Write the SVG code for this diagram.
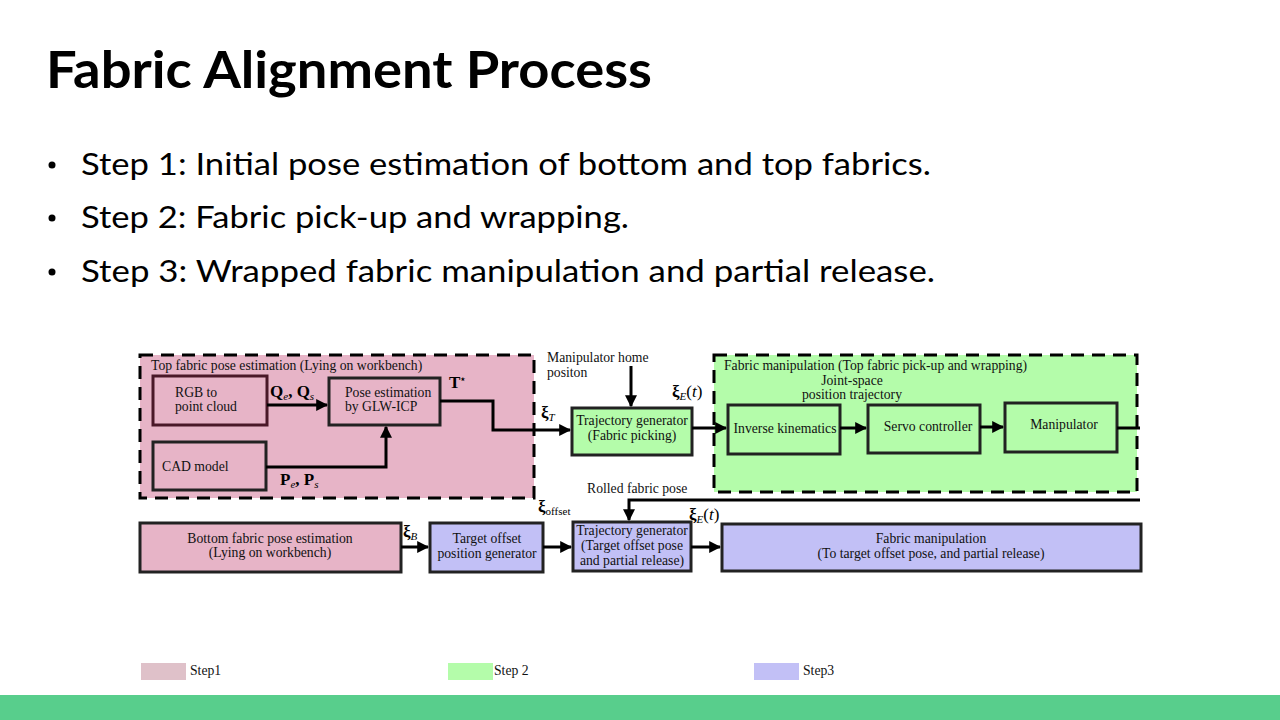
<svg xmlns="http://www.w3.org/2000/svg" width="1280" height="720" viewBox="0 0 1280 720">
<defs>
<marker id="ah" viewBox="0 0 10 10" refX="9" refY="5" markerWidth="4" markerHeight="4" orient="auto" markerUnits="strokeWidth">
<path d="M0,0 L10,5 L0,10 z" fill="#000"/>
</marker>
<style>
.title{font-family:Lato,"Open Sans",sans-serif;font-weight:bold;font-size:52px;fill:#000}
.bul{font-family:Lato,"Open Sans",sans-serif;font-size:31px;fill:#000}
.t{font-family:"Liberation Serif",serif;font-size:13.7px;fill:#111}
.tc{font-family:"Liberation Serif",serif;font-size:13.7px;fill:#111;text-anchor:middle}
.m{font-family:"Liberation Serif",serif;font-size:17px;font-weight:bold;fill:#000}
.sub{font-family:"Liberation Serif",serif;font-size:11px;font-style:italic;font-weight:normal}
.box{stroke:#222;stroke-width:3}
.pink{fill:#e7b4c7}
.green{fill:#b4fcaa}
.lav{fill:#c2c0f6}
.region{stroke:#000;stroke-width:3;stroke-dasharray:13 8}
.c{fill:none;stroke:#000;stroke-width:3}
.ca{fill:none;stroke:#000;stroke-width:3;marker-end:url(#ah)}
</style>
</defs>
<rect width="1280" height="720" fill="#fff"/>
<text class="title" x="46" y="88" textLength="606" lengthAdjust="spacingAndGlyphs">Fabric Alignment Process</text>
<g id="bullets">
<circle cx="52" cy="165" r="3.5" fill="#000"/>
<circle cx="52" cy="218" r="3.5" fill="#000"/>
<circle cx="52" cy="272" r="3.5" fill="#000"/>
<text class="bul" x="81" y="175" textLength="850" lengthAdjust="spacingAndGlyphs">Step 1: Initial pose estimation of bottom and top fabrics.</text>
<text class="bul" x="81" y="228" textLength="548" lengthAdjust="spacingAndGlyphs">Step 2: Fabric pick-up and wrapping.</text>
<text class="bul" x="81" y="282" textLength="854" lengthAdjust="spacingAndGlyphs">Step 3: Wrapped fabric manipulation and partial release.</text>
</g>

<g id="region-step1">
<rect class="pink region" x="140" y="355" width="394" height="143"/>
<text class="t" x="151" y="370">Top fabric pose estimation (Lying on workbench)</text>
</g>
<g id="region-step2">
<rect class="green region" x="714" y="355" width="423" height="137"/>
<text class="t" x="724" y="370">Fabric manipulation (Top fabric pick-up and wrapping)</text>
<text class="tc" x="852" y="385">Joint-space</text>
<text class="tc" x="852" y="399">position trajectory</text>
</g>

<g id="rgb">
<rect class="pink" x="153" y="376" width="114" height="49" stroke="#4a1828" stroke-width="3"/>
<text class="t" x="175" y="397">RGB to</text>
<text class="t" x="175" y="411">point cloud</text>
</g>
<g id="pose">
<rect class="pink box" x="329" y="378" width="111" height="47"/>
<text class="t" x="345" y="397">Pose estimation</text>
<text class="t" x="345" y="411">by GLW-ICP</text>
</g>
<g id="cad">
<rect class="pink box" x="153" y="442" width="113" height="48"/>
<text class="t" x="162" y="471">CAD model</text>
</g>
<g id="traj1">
<rect class="green box" x="572" y="408" width="120" height="47"/>
<text class="tc" x="632" y="425">Trajectory generator</text>
<text class="tc" x="632" y="440">(Fabric picking)</text>
</g>
<g id="ik">
<rect class="green box" x="728" y="405" width="112" height="49"/>
<text class="tc" x="785" y="433">Inverse kinematics</text>
</g>
<g id="servo">
<rect class="green box" x="868" y="405" width="112" height="48"/>
<text class="tc" x="928" y="431">Servo controller</text>
</g>
<g id="manip">
<rect class="green box" x="1005" y="403" width="112" height="49"/>
<text class="tc" x="1064" y="429">Manipulator</text>
</g>
<g id="bottom">
<rect class="pink box" x="140" y="523" width="261" height="49"/>
<text class="tc" x="270" y="543">Bottom fabric pose estimation</text>
<text class="tc" x="270" y="557">(Lying on workbench)</text>
</g>
<g id="offsetgen">
<rect class="lav box" x="430" y="523" width="113" height="49"/>
<text class="tc" x="487" y="543">Target offset</text>
<text class="tc" x="487" y="558">position generator</text>
</g>
<g id="traj2">
<rect class="lav box" x="573" y="522" width="118" height="49"/>
<text class="tc" x="632" y="535">Trajectory generator</text>
<text class="tc" x="632" y="550">(Target offset pose</text>
<text class="tc" x="632" y="565">and partial release)</text>
</g>
<g id="fabmanip">
<rect class="lav box" x="722" y="524" width="419" height="47"/>
<text class="tc" x="931" y="543">Fabric manipulation</text>
<text class="tc" x="931" y="558">(To target offset pose, and partial release)</text>
</g>

<g id="connectors">
<path class="ca" d="M267,405 H327"/>
<path class="ca" d="M266,467 H386 V427"/>
<path class="ca" d="M440,401 H493 V430 H570"/>
<path class="ca" d="M631,366 V406"/>
<path class="ca" d="M692,428 H726"/>
<path class="ca" d="M840,428 H866"/>
<path class="ca" d="M980,427 H1003"/>
<path class="c" d="M1117,428 H1140"/>
<path class="ca" d="M1140,500 H629 V520"/>
<path class="ca" d="M401,547 H428"/>
<path class="ca" d="M543,547 H571"/>
<path class="ca" d="M691,547 H720"/>
</g>

<g id="labels">
<text class="m" x="270" y="397">Q<tspan class="sub" dy="3">e</tspan><tspan dy="-3">, Q</tspan><tspan class="sub" dy="3">s</tspan></text>
<text class="m" x="280" y="485">P<tspan class="sub" dy="3">e</tspan><tspan dy="-3">, P</tspan><tspan class="sub" dy="3">s</tspan></text>
<text class="m" x="449" y="388">T<tspan font-size="9" dy="-6">⋆</tspan></text>
<text class="m" x="541" y="418">ξ<tspan class="sub" dy="3">T</tspan></text>
<text class="t" x="547" y="362">Manipulator home</text>
<text class="t" x="547" y="377">positon</text>
<text class="m" x="672" y="397">ξ<tspan class="sub" dy="3">E</tspan><tspan font-weight="normal" dy="-3">(</tspan><tspan font-weight="normal" font-style="italic">t</tspan><tspan font-weight="normal">)</tspan></text>
<text class="t" x="587" y="493">Rolled fabric pose</text>
<text class="m" x="403" y="537">ξ<tspan class="sub" dy="3">B</tspan></text>
<text class="m" x="538" y="512">ξ<tspan font-family="Liberation Serif" font-size="11" font-weight="normal" dy="3">offset</tspan></text>
<text class="m" x="689" y="520">ξ<tspan class="sub" dy="3">E</tspan><tspan font-weight="normal" dy="-3">(</tspan><tspan font-weight="normal" font-style="italic">t</tspan><tspan font-weight="normal">)</tspan></text>
</g>

<g id="legend">
<rect x="141" y="663" width="45" height="17" fill="#dfc1c9"/>
<text class="t" x="190" y="675">Step1</text>
<rect x="448" y="663" width="45" height="17" fill="#b4fcaa"/>
<text class="t" x="494" y="675">Step 2</text>
<rect x="754" y="663" width="45" height="17" fill="#c2c0f6"/>
<text class="t" x="803" y="675">Step3</text>
</g>
<rect x="0" y="695" width="1280" height="25" fill="#58ce8c"/>
</svg>
